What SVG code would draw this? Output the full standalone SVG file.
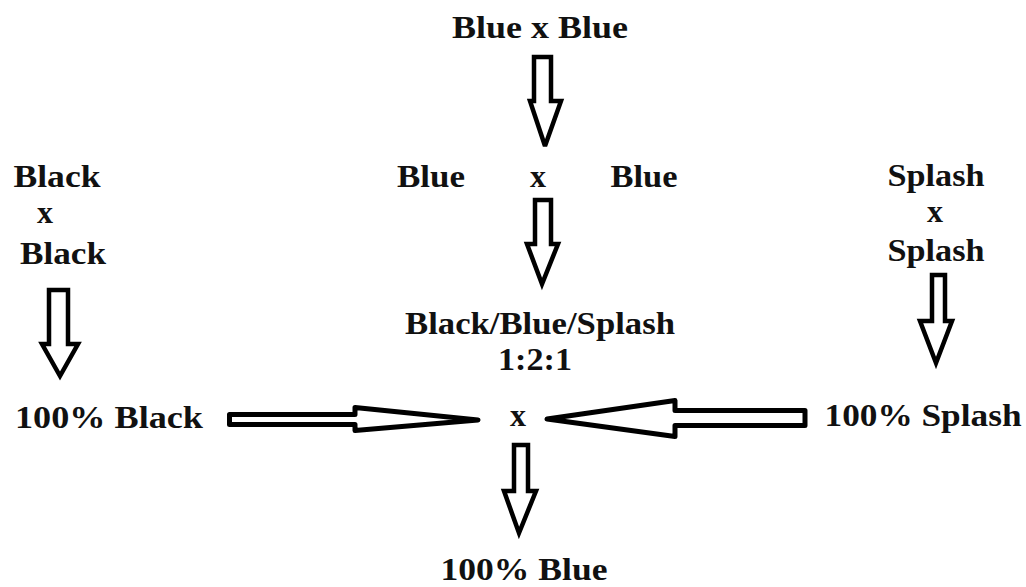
<svg xmlns="http://www.w3.org/2000/svg" width="1026" height="587" viewBox="0 0 1026 587">
<style>
text{font-family:"Liberation Serif","Times New Roman",Times,serif;font-weight:bold;font-size:32px;fill:#111;text-anchor:middle}
.arr{fill:#fff;stroke:#000;stroke-width:4.5;stroke-linejoin:miter;stroke-miterlimit:3}
.harr{fill:#fff;stroke:#000;stroke-width:5;stroke-linejoin:round}
</style>
<rect width="1026" height="587" fill="#fff"/>
<g id="n-bluexblue"><text x="540" y="38" font-size="33" textLength="176" lengthAdjust="spacingAndGlyphs">Blue x Blue</text></g>
<g id="n-blue-cross">
<text x="431" y="187" textLength="68" lengthAdjust="spacingAndGlyphs">Blue</text>
<text x="538" y="187">x</text>
<text x="644" y="187" textLength="67" lengthAdjust="spacingAndGlyphs">Blue</text>
</g>
<g id="n-ratio">
<text x="540" y="334" textLength="270" lengthAdjust="spacingAndGlyphs">Black/Blue/Splash</text>
<text x="535" y="370" textLength="74" lengthAdjust="spacingAndGlyphs">1:2:1</text>
</g>
<g id="n-blackxblack">
<text x="57" y="187" textLength="87" lengthAdjust="spacingAndGlyphs">Black</text>
<text x="45" y="223">x</text>
<text x="63" y="264" textLength="86" lengthAdjust="spacingAndGlyphs">Black</text>
</g>
<g id="n-splashxsplash">
<text x="936" y="186" textLength="97" lengthAdjust="spacingAndGlyphs">Splash</text>
<text x="935" y="222">x</text>
<text x="936" y="261" textLength="97" lengthAdjust="spacingAndGlyphs">Splash</text>
</g>
<g id="n-100black"><text x="109" y="428" textLength="188" lengthAdjust="spacingAndGlyphs">100% Black</text></g>
<g id="n-100splash"><text x="923" y="426" textLength="197" lengthAdjust="spacingAndGlyphs">100% Splash</text></g>
<g id="n-cross"><text x="518" y="426">x</text></g>
<g id="n-100blue"><text x="524" y="580" textLength="167" lengthAdjust="spacingAndGlyphs">100% Blue</text></g>
<g id="connectors">
<polygon class="arr" points="534,57 551,57 551,101 561,101 545,146 530,101 534,101"/>
<polygon class="arr" points="535,200 551,200 551,244 558,244 542,284 527,244 535,244"/>
<polygon class="arr" points="49,290 68,290 68,344 78,344 60,376 42,344 49,344"/>
<polygon class="arr" points="932,275 945,275 945,321 952,321 936,363 920,321 932,321"/>
<polygon class="arr" points="514,445 528,445 528,491 536,491 519,533 504,491 514,491"/>
<polygon class="harr" points="229.5,414.5 355,414.5 355,407.5 478,420 355,430.5 355,424.5 229.5,424.5"/>
<polygon class="harr" points="547,419 675,400.5 675,410.5 805,410.5 805,425.5 675,425.5 675,436.5"/>
</g>
</svg>
